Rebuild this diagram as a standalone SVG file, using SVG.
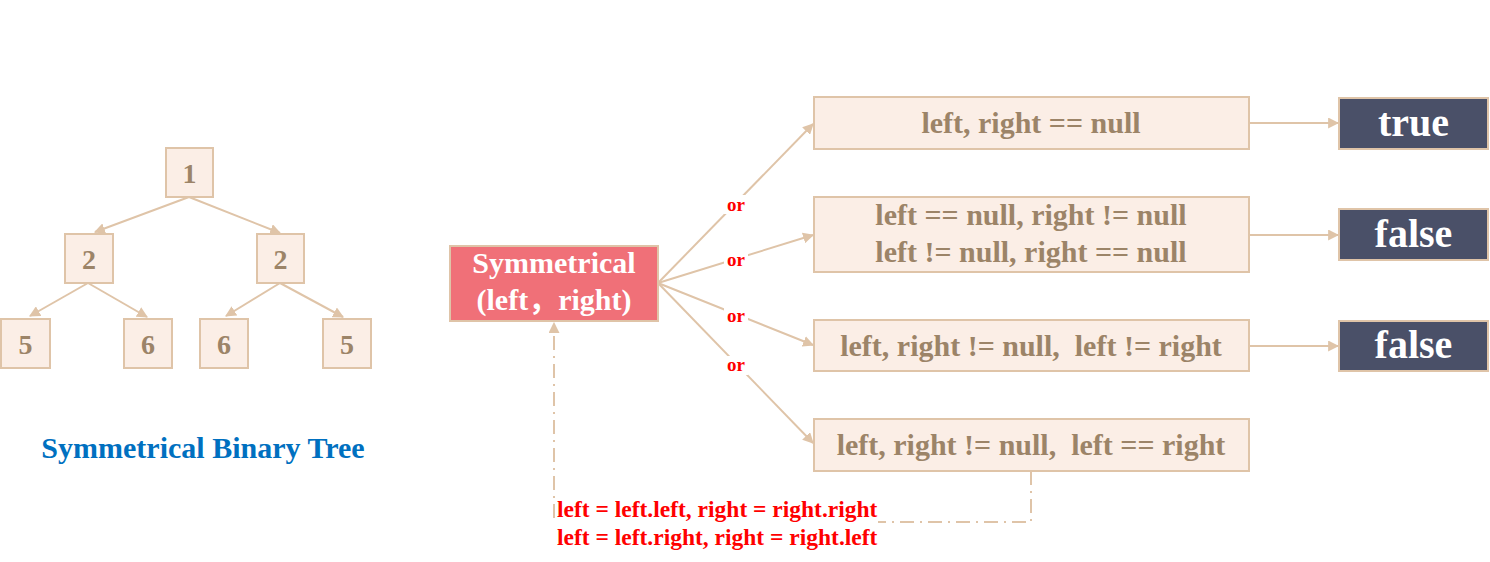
<svg xmlns="http://www.w3.org/2000/svg" width="1490" height="562" viewBox="0 0 1490 562">
<defs>
<marker id="ah" viewBox="0 0 10 10" refX="9" refY="5" markerWidth="5.5" markerHeight="5.5" markerUnits="strokeWidth" orient="auto">
<path d="M0,0 L10,5 L0,10 Z" fill="#DFC4A8"/>
</marker>
<style>
.nd{fill:#FBEEE6;stroke:#DFC4A8;stroke-width:2}
.tt{font-family:"Liberation Serif","Times New Roman",serif;font-weight:bold;fill:#9C8468;text-anchor:middle}
.res{fill:#4A5068;stroke:#DFC4A8;stroke-width:2}
.rt{font-family:"Liberation Serif","Times New Roman",serif;font-weight:bold;fill:#FFFFFF;text-anchor:middle;font-size:40px}
.ln{stroke:#DFC4A8;stroke-width:2;fill:none;marker-end:url(#ah)}
.or{font-family:"Liberation Serif","Times New Roman",serif;font-weight:bold;fill:#FF0000;font-size:19px;text-anchor:middle}
.red{font-family:"Liberation Serif","Times New Roman",serif;font-weight:bold;fill:#FF0000;font-size:23.5px}
</style>
</defs>
<rect width="1490" height="562" fill="#FFFFFF"/>

<g id="connectors">
<line class="ln" x1="189" y1="197" x2="95" y2="232"/>
<line class="ln" x1="189" y1="197" x2="280" y2="233"/>
<line class="ln" x1="88" y1="283" x2="30" y2="316"/>
<line class="ln" x1="88" y1="283" x2="147" y2="317"/>
<line class="ln" x1="280" y1="283" x2="226" y2="316"/>
<line class="ln" x1="280" y1="283" x2="343" y2="317"/>
<line class="ln" x1="658" y1="283" x2="813" y2="124"/>
<line class="ln" x1="658" y1="283" x2="813" y2="235"/>
<line class="ln" x1="658" y1="283" x2="813" y2="345"/>
<line class="ln" x1="658" y1="283" x2="813" y2="443"/>
<line class="ln" x1="1249" y1="123" x2="1338" y2="123"/>
<line class="ln" x1="1249" y1="235" x2="1338" y2="235"/>
<line class="ln" x1="1249" y1="346" x2="1338" y2="346"/>
<path class="ln" d="M1031,471 L1031,522 L554,522 L554,323" stroke-dasharray="14,6,2,6"/>
<rect x="724" y="195" width="24" height="19" fill="#FFFFFF"/>
<rect x="724" y="251" width="24" height="19" fill="#FFFFFF"/>
<rect x="724" y="307" width="24" height="19" fill="#FFFFFF"/>
<rect x="724" y="356" width="24" height="19" fill="#FFFFFF"/>
<text class="or" x="736" y="211">or</text>
<text class="or" x="736" y="266">or</text>
<text class="or" x="736" y="322">or</text>
<text class="or" x="736" y="371">or</text>
<rect x="556" y="497" width="322" height="52" fill="#FFFFFF"/>
<text class="red" x="557" y="517">left = left.left, right = right.right</text>
<text class="red" x="557" y="545">left = left.right, right = right.left</text>
</g>

<g id="t1"><rect class="nd" x="166" y="148" width="47" height="49"/><text class="tt" x="189.5" y="183" font-size="28">1</text></g>
<g id="t2a"><rect class="nd" x="65" y="234" width="48" height="49"/><text class="tt" x="89" y="269" font-size="28">2</text></g>
<g id="t2b"><rect class="nd" x="257" y="234" width="47" height="49"/><text class="tt" x="280.5" y="269" font-size="28">2</text></g>
<g id="t5a"><rect class="nd" x="1" y="319" width="49" height="49"/><text class="tt" x="25.5" y="354" font-size="28">5</text></g>
<g id="t6a"><rect class="nd" x="124" y="319" width="48" height="49"/><text class="tt" x="148" y="354" font-size="28">6</text></g>
<g id="t6b"><rect class="nd" x="200" y="319" width="48" height="49"/><text class="tt" x="224" y="354" font-size="28">6</text></g>
<g id="t5b"><rect class="nd" x="323" y="319" width="48" height="49"/><text class="tt" x="347" y="354" font-size="28">5</text></g>

<g id="caption"><text x="203" y="458" font-family="'Liberation Serif','Times New Roman',serif" font-weight="bold" font-size="30" fill="#0070C0" text-anchor="middle">Symmetrical Binary Tree</text></g>

<g id="sym"><rect x="450" y="246" width="208" height="75" fill="#F07078" stroke="#DFC4A8" stroke-width="2"/>
<text x="554" y="273" font-family="'Liberation Serif','Times New Roman',serif" font-weight="bold" font-size="30" fill="#FFFFFF" text-anchor="middle">Symmetrical</text>
<text x="554" y="310" font-family="'Liberation Serif','Times New Roman','Noto Sans CJK SC',serif" font-weight="bold" font-size="30" fill="#FFFFFF" text-anchor="middle">(left，right)</text></g>

<g id="c1"><rect class="nd" x="814" y="97" width="435" height="52"/><text class="tt" x="1031" y="133" font-size="30">left, right == null</text></g>
<g id="c2"><rect class="nd" x="814" y="197" width="435" height="75"/><text class="tt" x="1031" y="225" font-size="30">left == null, right != null</text><text class="tt" x="1031" y="262" font-size="30">left != null, right == null</text></g>
<g id="c3"><rect class="nd" x="814" y="320" width="435" height="51"/><text class="tt" x="1031" y="356" font-size="30" xml:space="preserve">left, right != null,  left != right</text></g>
<g id="c4"><rect class="nd" x="814" y="419" width="435" height="52"/><text class="tt" x="1031" y="455" font-size="30" xml:space="preserve">left, right != null,  left == right</text></g>

<g id="r1"><rect class="res" x="1339" y="98" width="149" height="51"/><text class="rt" x="1413.5" y="136">true</text></g>
<g id="r2"><rect class="res" x="1339" y="209" width="149" height="51"/><text class="rt" x="1413.5" y="247">false</text></g>
<g id="r3"><rect class="res" x="1339" y="321" width="149" height="50"/><text class="rt" x="1413.5" y="358">false</text></g>
</svg>
